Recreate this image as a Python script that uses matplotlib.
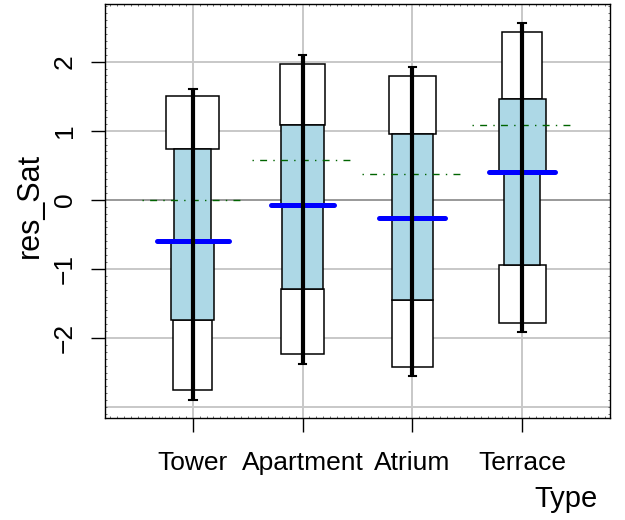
import matplotlib
matplotlib.use("Agg")
import matplotlib.pyplot as plt
from matplotlib.patches import Rectangle
from matplotlib.ticker import MultipleLocator, FixedLocator

plt.rcParams['font.family'] = ['Liberation Sans', 'DejaVu Sans']

types = ['Tower', 'Apartment', 'Atrium', 'Terrace']
whisker_lo = [-2.90, -2.37, -2.55, -1.91]
whisker_hi = [1.61, 2.10, 1.92, 2.56]
outer_lo = [-2.75, -2.23, -2.42, -1.78]
outer_hi = [1.50, 1.97, 1.79, 2.43]
q_lo = [-1.74, -1.29, -1.45, -0.95]
q_hi = [0.74, 1.08, 0.95, 1.455]
median = [-0.59, -0.07, -0.26, 0.41]
mean = [0.00, 0.577, 0.374, 1.09]
# box widths (in category units)
upper_outer_w = [0.48, 0.41, 0.43, 0.37]
upper_q_w = [0.34, 0.39, 0.37, 0.43]
lower_q_w = [0.39, 0.37, 0.375, 0.33]
lower_outer_w = [0.355, 0.39, 0.37, 0.43]
median_w = [0.66, 0.58, 0.60, 0.60]
mean_w = [0.92, 0.92, 0.92, 0.92]
yticks = [-2, -1, 0, 1, 2]
ygrid = [-3, -2, -1, 0, 1, 2]

fig = plt.figure(figsize=(6.25, 5.2), dpi=100)
ax = fig.add_axes([105/625, 1-418/520, (610-105)/625, (418-4)/520])
ax.set_xlim(0.2, 4.8)
ax.set_ylim(-3.158, 2.835)

xs = list(range(1, len(types) + 1))
for g in ygrid:
    ax.axhline(g, color='#999999' if g == 0 else '#c8c8c8', lw=1.4, zorder=0.5)
for x in xs:
    ax.axvline(x, color='#c8c8c8', lw=1.4, zorder=0.5)

for i, x in enumerate(xs):
    # outer white boxes
    w = upper_outer_w[i]
    ax.add_patch(Rectangle((x - w/2, q_hi[i]), w, outer_hi[i] - q_hi[i],
                           facecolor='white', edgecolor='black', lw=1.1, zorder=2))
    w = lower_outer_w[i]
    ax.add_patch(Rectangle((x - w/2, outer_lo[i]), w, q_lo[i] - outer_lo[i],
                           facecolor='white', edgecolor='black', lw=1.1, zorder=2))
    # quartile (blue) boxes
    w = upper_q_w[i]
    ax.add_patch(Rectangle((x - w/2, median[i]), w, q_hi[i] - median[i],
                           facecolor='#add8e6', edgecolor='black', lw=1.1, zorder=3))
    w = lower_q_w[i]
    ax.add_patch(Rectangle((x - w/2, q_lo[i]), w, median[i] - q_lo[i],
                           facecolor='#add8e6', edgecolor='black', lw=1.1, zorder=3))
    # median
    w = median_w[i]
    ax.plot([x - w/2, x + w/2], [median[i], median[i]], color='#0000ff', lw=3.6,
            solid_capstyle='round', zorder=4)
    # mean
    w = mean_w[i]
    ax.plot([x - w/2, x + w/2], [mean[i], mean[i]], color='#006400', lw=1.0,
            linestyle=(0, (1, 4.5, 5, 4.5)), dash_capstyle='butt', zorder=5)
    # whisker
    ax.plot([x, x], [whisker_lo[i], whisker_hi[i]], color='black', lw=3.0,
            solid_capstyle='butt', zorder=6)
    for yv in (whisker_lo[i], whisker_hi[i]):
        ax.plot([x - 0.035, x + 0.035], [yv, yv], color='black', lw=1.5, zorder=6)

ax.xaxis.set_major_locator(FixedLocator(xs))
ax.set_xticklabels(types, fontsize=19)
ax.yaxis.set_major_locator(FixedLocator(yticks))
ax.set_yticklabels([str(t).replace('-', '\u2212') for t in yticks], fontsize=19,
                   rotation=90, va='center')
ax.tick_params(axis='both', which='major', direction='out', length=10, width=1.0)
ax.tick_params(axis='x', which='major', pad=14)
ax.tick_params(axis='y', which='major', pad=10.5)
ax.xaxis.set_minor_locator(MultipleLocator(0.0625))
ax.yaxis.set_minor_locator(MultipleLocator(0.1))
ax.tick_params(which='minor', direction='in', length=1.5, width=0.6,
               top=True, right=True, bottom=True, left=True, color='#555555')
for s in ax.spines.values():
    s.set_linewidth(1.0)

fig.text(598/625, 1-507/520, 'Type', ha='right', va='baseline', fontsize=21)
fig.text(30/625, 1-205/520, 'res_Sat', ha='center', va='center', rotation=90, fontsize=22)

fig.savefig('out.png', dpi=100)
